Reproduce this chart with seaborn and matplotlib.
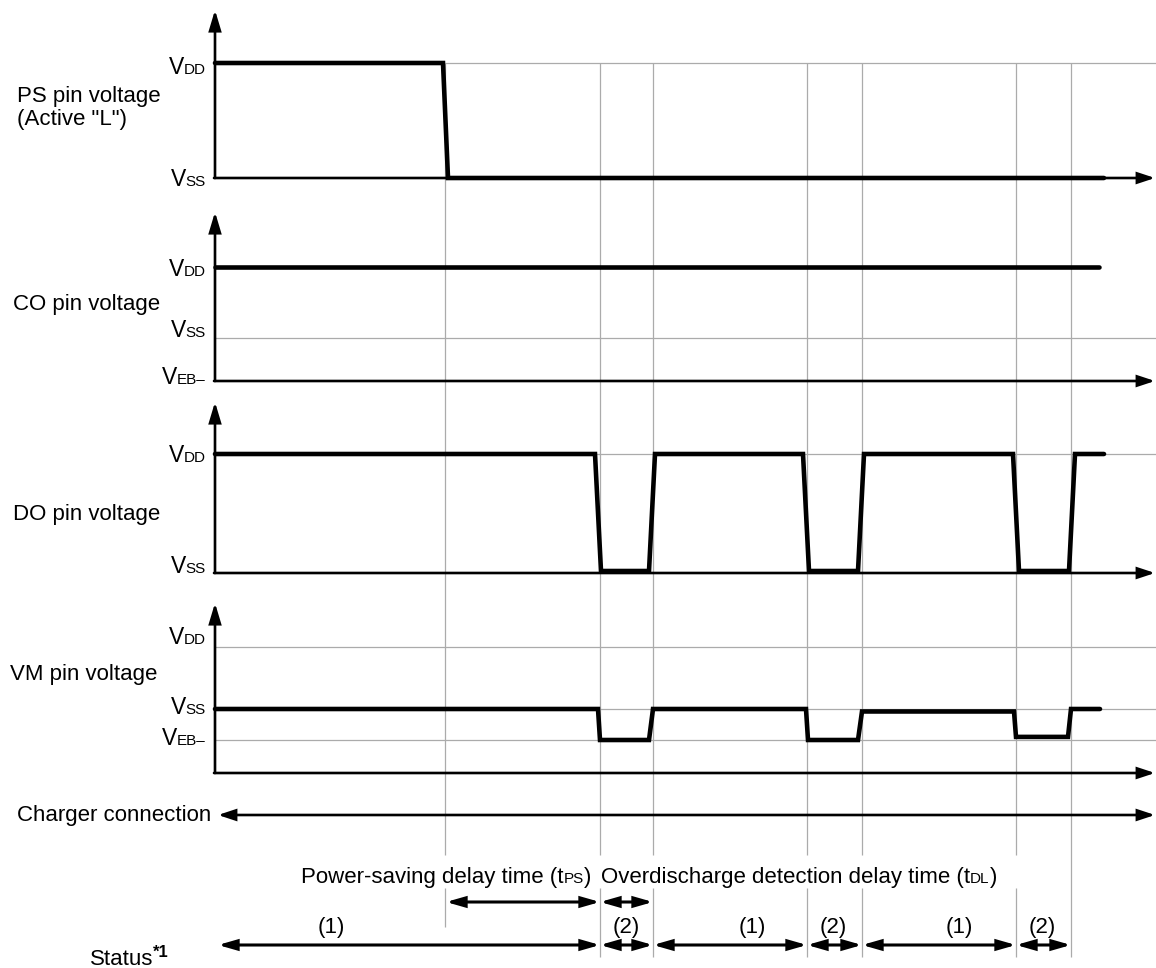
import numpy as np
import matplotlib
matplotlib.use("Agg")
import matplotlib.pyplot as plt
from matplotlib.patches import FancyArrowPatch
import seaborn as sns

# ---- timing data (time axis in drawing units, left edge of trace = 215) ----
event_t = [445, 600, 653, 807, 862, 1016, 1071]   # event markers
t_start, t_end = 215, 1156

# levels: 1 = VDD, 0 = VSS, -1 = VEB-
ps_t = [215, 443, 448, 1104]
ps_lv = [1, 1, 0, 0]
co_t = [215, 1099]
co_lv = [1, 1]
do_t = [215, 595, 601, 649, 655, 803, 809, 858, 864, 1013, 1019, 1069, 1075, 1104]
do_lv = [1, 1, 0, 0, 1, 1, 0, 0, 1, 1, 0, 0, 1, 1]
vm_t = [215, 598, 600, 649, 653, 806, 808, 858, 862, 1014, 1016, 1068, 1071, 1100]
vm_lv = [0, 0, -1, -1, 0, 0, -1, -1, -0.08, -0.08, -0.9, -0.9, 0, 0]

status_edges = [218, 600, 653, 807, 862, 1016, 1071]
status_names = ["(1)", "(2)", "(1)", "(2)", "(1)", "(2)"]
status_text_x = [331, 626, 752, 833, 959, 1042]

delay_spans = [(446, 600), (600, 653)]
delay_words = [("Power-saving delay time (t", "PS", ")"),
               ("Overdischarge detection delay time (t", "DL", ")")]
delay_text_x = [591, 601]
delay_text_ha = ["right", "left"]

# ---- layout ----
panel_axis_y = [178, 381, 573, 773]
panel_top_y = [10, 212, 402, 603]
panel_levels = [{1: 63, 0: 178},
                {1: 266.5, 0: 338, -1: 381},
                {1: 454, 0: 571},
                {1: 647, 0: 709, -1: 740}]
signals = [(ps_t, ps_lv), (co_t, co_lv), (do_t, do_lv), (vm_t, vm_lv)]

# pin labels: (text, x, baseline)
pin_labels = [("PS pin voltage", 17, 102), ('(Active "L")', 17, 125),
              ("CO pin voltage", 13, 310), ("DO pin voltage", 13, 520),
              ("VM pin voltage", 10, 680), ("Charger connection", 17, 821)]
# level labels: (subscript, centre y)
level_labels = [("DD", 66), ("SS", 178),
                ("DD", 268), ("SS", 329), ("EB\u2013", 376),
                ("DD", 454), ("SS", 565),
                ("DD", 636), ("SS", 706), ("EB\u2013", 737)]
hgrid = [(63, 445), (338, 215), (454, 215), (647, 215), (709, 215), (740, 215)]

sns.set_theme(style="white")
plt.rcParams["font.family"] = ["Liberation Sans", "DejaVu Sans"]
plt.rcParams["text.color"] = "black"

fig = plt.figure(figsize=(11.56, 9.68), dpi=100)
ax = fig.add_axes([0, 0, 1, 1])
ax.set_xlim(0, 1156)
ax.set_ylim(968, 0)
ax.axis("off")
renderer = fig.canvas.get_renderer()

grid_col = "#ababab"
# vertical event markers (with a gap where the delay texts sit)
for x in event_t:
    bottom = 927 if x == event_t[0] else 957
    if x == event_t[-1]:
        ax.vlines(x, 63, bottom, color=grid_col, lw=0.9, zorder=1)
    else:
        ax.vlines(x, 63, 855, color=grid_col, lw=0.9, zorder=1)
        ax.vlines(x, 888, bottom, color=grid_col, lw=0.9, zorder=1)
for y, x0 in hgrid:
    ax.hlines(y, x0, t_end, color=grid_col, lw=0.9, zorder=1)


def arrow(p0, p1, both=False, hl=1.1, hw=0.36, lw=1.9):
    style = "<|-|>" if both else "-|>"
    a = FancyArrowPatch(p0, p1, arrowstyle=f"{style},head_length={hl},head_width={hw}",
                        mutation_scale=10, lw=lw, color="black",
                        shrinkA=0, shrinkB=0, joinstyle="miter", zorder=2)
    ax.add_patch(a)


# panel axes
for ay, ty in zip(panel_axis_y, panel_top_y):
    arrow((t_start, ay), (t_start, ty), hl=1.2, hw=0.36)
    arrow((t_start - 1, ay), (t_end - 1, ay), hl=1.0, hw=0.33)

# waveforms
for (t, lv), lev in zip(signals, panel_levels):
    keys = sorted(lev)
    y = np.interp(lv, keys, [lev[k] for k in keys])
    sns.lineplot(x=t, y=y, ax=ax, color="black", linewidth=3.3, sort=False,
                 estimator=None, zorder=3, solid_joinstyle="miter")


def write_runs(x, base, runs, ha="left"):
    arts = [ax.text(0, base - rise, s, fontsize=size, fontweight=wt,
                    va="baseline", ha="left", color="black")
            for s, size, wt, rise in runs]
    widths = [a.get_window_extent(renderer).width for a in arts]
    cur = x - sum(widths) if ha == "right" else x
    for a, w in zip(arts, widths):
        a.set_x(cur)
        cur += w


for s, x, b in pin_labels:
    ax.text(x, b, s, fontsize=16, va="baseline", ha="left", color="black")

for sub, yc in level_labels:
    write_runs(206, yc + 8.2, [("V", 16.5, "normal", 0), (sub, 11, "normal", 0)], ha="right")

# charger connection
arrow((218, 815), (t_end - 1, 815), both=True, hl=1.0, hw=0.33)

# delay times
for (x0, x1) in delay_spans:
    arrow((x0, 902), (x1, 902), both=True, hl=1.05, hw=0.3, lw=2.2)
for (a, b, c), x, ha in zip(delay_words, delay_text_x, delay_text_ha):
    write_runs(x, 883, [(a, 16, "normal", 0), (b, 11, "normal", 0), (c, 16, "normal", 0)], ha=ha)

# status row
for i, name in enumerate(status_names):
    arrow((status_edges[i], 945), (status_edges[i + 1], 945), both=True, hl=1.05, hw=0.3, lw=2.2)
    ax.text(status_text_x[i], 933, name, fontsize=16, va="baseline", ha="center", color="black")
write_runs(90, 965, [("Status", 16, "normal", 0), ("*1", 12, "bold", 8)])

fig.savefig("out.png", dpi=100)
